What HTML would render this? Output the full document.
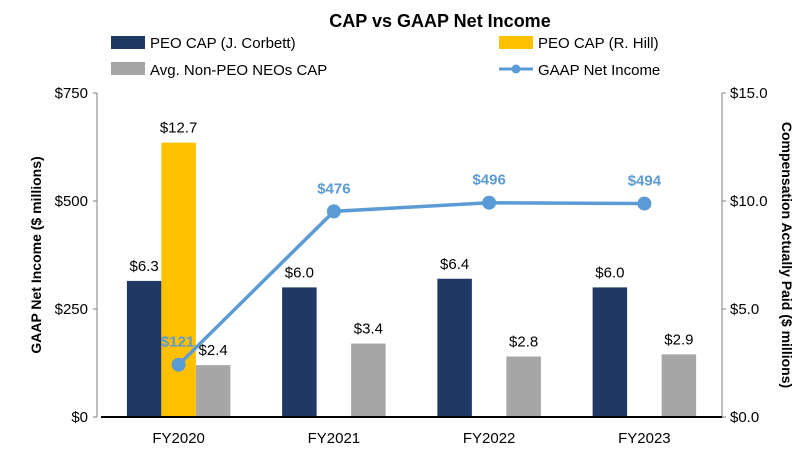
<!DOCTYPE html>
<html><head><meta charset="utf-8"><style>
body{margin:0;background:#fff;font-family:"Liberation Sans",Arial,sans-serif}
</style></head><body>
<svg id="c" width="809" height="449" font-family="Liberation Sans, Arial, sans-serif">
<text x="440" y="27" text-anchor="middle" font-size="18" font-weight="bold">CAP vs GAAP Net Income</text>
<g>
<rect x="111" y="36" width="34" height="13" fill="#1f3864"/>
<text x="150" y="48" font-size="15">PEO CAP (J. Corbett)</text>
<rect x="499" y="36" width="34" height="13" fill="#ffc000"/>
<text x="538" y="48" font-size="15">PEO CAP (R. Hill)</text>
<rect x="111" y="62" width="34" height="13" fill="#a6a6a6"/>
<text x="150" y="75" font-size="15">Avg. Non-PEO NEOs CAP</text>
<line x1="499" y1="69" x2="533" y2="69" stroke="#5b9bd5" stroke-width="3"/>
<circle cx="516" cy="69" r="4.5" fill="#5b9bd5"/>
<text x="538" y="75" font-size="15">GAAP Net Income</text>
</g>
<text transform="translate(41,255) rotate(-90)" text-anchor="middle" font-size="14" font-weight="bold">GAAP Net Income ($ millions)</text>
<text transform="translate(782,255) rotate(90)" text-anchor="middle" font-size="14" font-weight="bold">Compensation Actually Paid ($ millions)</text>
<g id="plot"></g>
</svg>
<script>
const categories=["FY2020","FY2021","FY2022","FY2023"];
const corbett=[6.3,6.0,6.4,6.0];
const hill=[12.7,null,null,null];
const neo=[2.4,3.4,2.8,2.9];
const income=[121,476,496,494];
const leftTicks=[0,250,500,750];
const leftTickLabels=["$0","$250","$500","$750"];
const rightTicks=[0,5,10,15];
const rightTickLabels=["$0.0","$5.0","$10.0","$15.0"];

const NS="http://www.w3.org/2000/svg";
const g=document.getElementById("plot");
const X0=101,X1=722,Y0=417,Y1=93;
const band=(X1-X0)/categories.length, bw=34.5;
const yL=v=>Y0-(v/750)*(Y0-Y1);
const yR=v=>Y0-(v/15)*(Y0-Y1);
const xc=i=>X0+band*(i+0.5);
function el(t,a,txt){const e=document.createElementNS(NS,t);for(const k in a)e.setAttribute(k,a[k]);if(txt!=null)e.textContent=txt;g.appendChild(e);return e;}

let e=el("line",{x1:97,y1:Y1,x2:97,y2:Y0,stroke:"#7f7f7f"});


e=el("line",{x1:722,y1:Y1,x2:722,y2:Y0,stroke:"#7f7f7f"});


leftTicks.forEach((v,i)=>{
 let t=el("line",{x1:93,y1:yL(v),x2:97,y2:yL(v),stroke:"#7f7f7f"});
 
 
 t=el("text",{x:88,y:yL(v)+5,"text-anchor":"end","font-size":15},leftTickLabels[i]);
 
 
});
rightTicks.forEach((v,i)=>{
 let t=el("line",{x1:722,y1:yR(v),x2:726,y2:yR(v),stroke:"#7f7f7f"});
 
 
 t=el("text",{x:730,y:yR(v)+5,"font-size":15},rightTickLabels[i]);
 
 
});
const series=[[corbett,"#1f3864",-1],[hill,"#ffc000",0],[neo,"#a6a6a6",1]];
categories.forEach((c,i)=>{
 series.forEach(([arr,col,off])=>{
  const v=arr[i]; if(v==null) return;
  const x=xc(i)+off*bw-bw/2;
  let r=el("rect",{x:x,y:yR(v),width:bw,height:Y0-yR(v),fill:col});
  
  
  let t=el("text",{x:x+bw/2,y:yR(v)-10,"text-anchor":"middle","font-size":15},"$"+v.toFixed(1));
  
  
 });
 let t=el("text",{x:xc(i),y:443,"text-anchor":"middle","font-size":15},c);
 
 
});
e=el("line",{x1:X0,y1:Y0,x2:X1,y2:Y0,stroke:"#000","stroke-width":2});


const pts=income.map((v,i)=>xc(i)+","+yL(v)).join(" ");
e=el("polyline",{points:pts,fill:"none",stroke:"#5b9bd5","stroke-width":3.5});


income.forEach((v,i)=>{
 let p=el("circle",{cx:xc(i),cy:yL(v),r:7,fill:"#5b9bd5"});
 
 
 let t=el("text",{x:i==0?xc(i)-1:xc(i),y:i==0?yL(v)-18:yL(v)-18,"text-anchor":"middle","font-size":15,"font-weight":"bold",fill:"#5b9bd5"},"$"+v);
 
 
});
</script>
</body></html>
